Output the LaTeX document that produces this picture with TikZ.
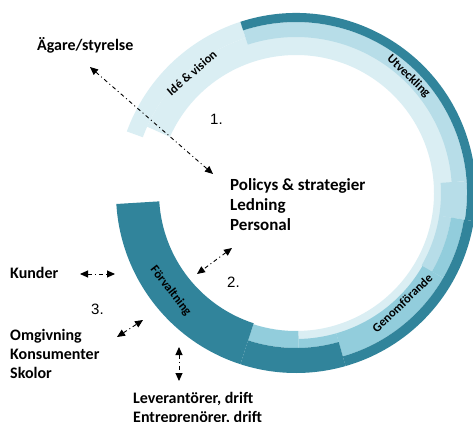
\documentclass[tikz,border=0pt]{standalone}
\usepackage{fontspec}
\setmainfont{Carlito}
\newfontfamily\numfont{Liberation Sans}
\usetikzlibrary{arrows.meta}
\definecolor{lightc}{HTML}{DAEEF3}
\definecolor{mlc}{HTML}{B7DDE8}
\definecolor{mc}{HTML}{92CDDC}
\definecolor{dc}{HTML}{31849B}
\newcommand{\ringseg}[5]{\fill[#1] (#2:#5) arc[start angle=#2,end angle=#3,radius=#5] -- (#3:#4) arc[start angle=#3,end angle=#2,radius=#4] -- cycle;}
\tikzset{
  lbl/.style={anchor=base west, inner sep=0pt, font=\fontsize{16}{19}\selectfont\bfseries},
  biglbl/.style={anchor=base west, inner sep=0pt, font=\fontsize{17}{20}\selectfont\bfseries},
  ringlbl/.style={inner sep=0pt, font=\fontsize{12.5}{14}\selectfont\bfseries},
  numlbl/.style={anchor=base west, inner sep=0pt, font=\fontsize{15}{18}\selectfont\numfont},
  dda/.style={line width=0.9pt, dash pattern=on 4pt off 3pt on 1pt off 3pt,
    {Triangle[length=8pt,width=7pt]}-{Triangle[length=8pt,width=7pt]}}
}
\begin{document}
\begin{tikzpicture}[x=1pt,y=1pt]
\fill[white] (0,0) rectangle (473,421);
\useasboundingbox (0,0) rectangle (473,421);
\begin{scope}[shift={(296,228)}]
  % light base (Idé & vision)
  \ringseg{lightc}{160}{108}{163}{180}
  \ringseg{lightc}{156}{-89}{138}{163}
  % medium light (Utveckling)
  \ringseg{mlc}{108}{4}{156}{171}
  \ringseg{mlc}{4}{-9}{145}{171}
  \ringseg{mlc}{-9}{-30}{145}{157}
  % medium (Genomförande)
  \ringseg{mc}{-9}{-30}{157}{170}
  \ringseg{mc}{-30}{-74}{146}{170}
  \ringseg{mc}{-74}{-89}{146}{155}
  \ringseg{mc}{-89}{-108}{138}{155}
  % dark (Förvaltning)
  \ringseg{dc}{108}{-9}{171}{180}
  \ringseg{dc}{-9}{-74}{170}{180}
  \ringseg{dc}{-74}{-108}{155}{180}
  \ringseg{dc}{-108}{-176.5}{137}{180}
  % ring labels
  \node[ringlbl, rotate=41] (idev) at (131:159) {Idé \& vision};
  \node[ringlbl, rotate=-44] (utv) at (46:162) {Utveckling};
  \node[ringlbl, rotate=44] (genf) at (-46:153) {Genomförande};
  \node[ringlbl, rotate=-52] (forv) at (218:159) {Förvaltning};
\end{scope}
% text labels
\node[lbl] (agare) at (37,370) {Ägare/styrelse};
\node[biglbl] (pol1) at (230,231) {Policys \& strategier};
\node[biglbl] (pol2) at (230,211) {Ledning};
\node[biglbl] (pol3) at (230,191) {Personal};
\node[lbl] (kunder) at (10,143) {Kunder};
\node[lbl] (omg1) at (10,81) {Omgivning};
\node[lbl] (omg2) at (10,62) {Konsumenter};
\node[lbl] (omg3) at (10,43) {Skolor};
\node[lbl] (lev1) at (133,18) {Leverantörer, drift};
\node[lbl] (lev2) at (133,-1) {Entreprenörer, drift};
\node[numlbl] (n1) at (210,297) {1.};
\node[numlbl] (n2) at (227,134) {2.};
\node[numlbl] (n3) at (91,107) {3.};
% arrow end points
\coordinate (a1s) at (90,354);
\coordinate (a1e) at (213,247);
\coordinate (a2s) at (232,173);
\coordinate (a2e) at (197,147);
\coordinate (a3s) at (80,147);
\coordinate (a3e) at (115,147);
\coordinate (a4s) at (117,84);
\coordinate (a4e) at (143,101);
\coordinate (a5s) at (179,74);
\coordinate (a5e) at (179,40);
\draw[dda] (a1s) -- (a1e);
\draw[dda] (a2s) -- (a2e);
\draw[dda] (a3s) -- (a3e);
\draw[dda] (a4s) -- (a4e);
\draw[dda] (a5s) -- (a5e);
\end{tikzpicture}
\end{document}
